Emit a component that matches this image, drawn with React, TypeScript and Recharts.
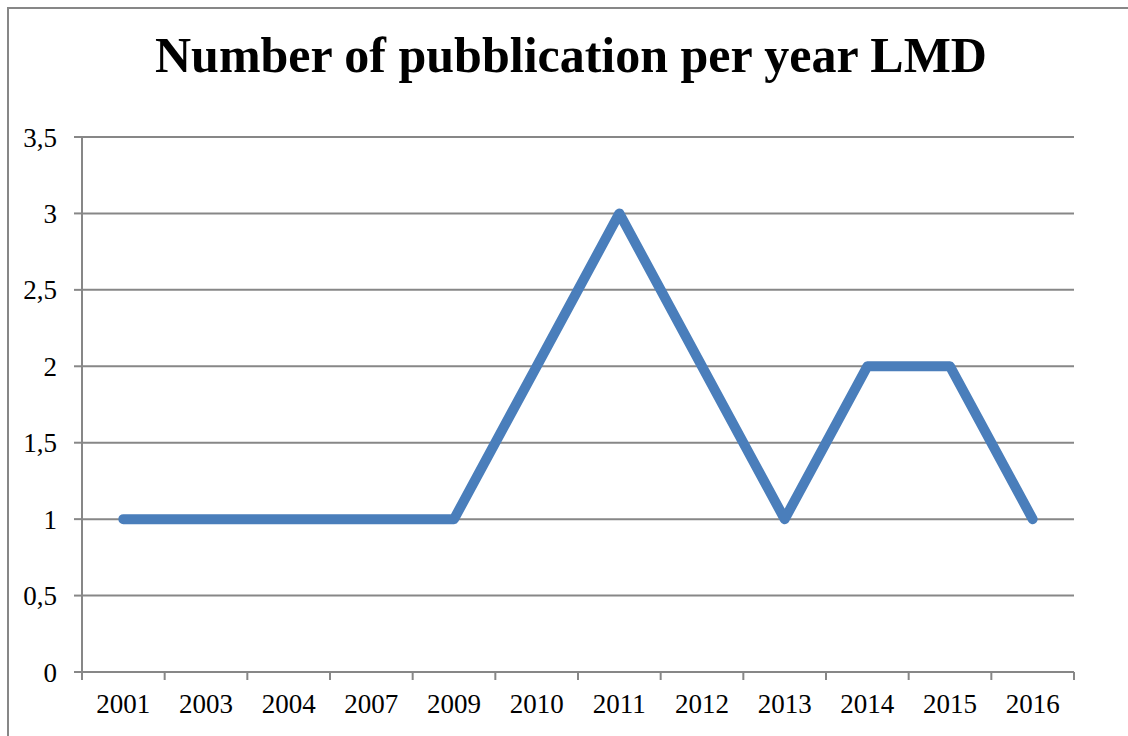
import React from 'react';
import { LineChart, Line, XAxis, YAxis, CartesianGrid } from 'recharts';

const TITLE = 'Number of pubblication per year LMD';
const YEARS = ['2001', '2003', '2004', '2007', '2009', '2010', '2011', '2012', '2013', '2014', '2015', '2016'];
const COUNTS = [1, 1, 1, 1, 1, 2, 3, 2, 1, 2, 2, 1];
const Y_TICKS = [0, 0.5, 1, 1.5, 2, 2.5, 3, 3.5];

const data = YEARS.map((year, i) => ({ year, count: COUNTS[i] }));

const W = 1128;
const H = 736;
const M = { top: 137, right: 54, bottom: 0, left: 0 };
const Y_AXIS_W = 82;
const X_AXIS_H = 64;
const PLOT_W = W - M.left - M.right - Y_AXIS_W;
const BAND = PLOT_W / YEARS.length;
const GRAY = '#878787';
const FONT = '"Liberation Serif", "Times New Roman", serif';

const XTick = (props: any) => {
  const { x, y, payload, index } = props;
  const half = BAND / 2;
  return (
    <g>
      <line x1={x - half} x2={x - half} y1={y} y2={y + 8} stroke={GRAY} strokeWidth={2} />
      {index === YEARS.length - 1 && (
        <line x1={x + half} x2={x + half} y1={y} y2={y + 8} stroke={GRAY} strokeWidth={2} />
      )}
      <text x={x} y={y + 41} textAnchor="middle" fontFamily={FONT} fontSize={27} fill="#000">
        {payload.value}
      </text>
    </g>
  );
};

export default function App() {
  return (
    <div style={{ position: 'fixed', left: 0, top: 0, width: W, height: H, overflow: 'hidden', background: '#fff' }}>
      <div
        style={{
          position: 'absolute',
          left: 7,
          top: 7,
          width: 1300,
          height: 900,
          borderLeft: `2px solid ${GRAY}`,
          borderTop: `2px solid ${GRAY}`,
          boxSizing: 'border-box',
        }}
      />
      <div
        style={{
          position: 'absolute',
          left: 7,
          top: 25,
          width: 1128,
          textAlign: 'center',
          fontFamily: FONT,
          fontWeight: 'bold',
          fontSize: 50,
          lineHeight: '60px',
          color: '#000',
          whiteSpace: 'nowrap',
        }}
      >
        {TITLE}
      </div>
      <div style={{ position: 'absolute', left: 0, top: 0 }}>
        <LineChart width={W} height={H} data={data} margin={M}>
          <CartesianGrid vertical={false} stroke={GRAY} strokeWidth={2} />
          <XAxis
            dataKey="year"
            height={X_AXIS_H}
            padding={{ left: BAND / 2, right: BAND / 2 }}
            axisLine={{ stroke: GRAY, strokeWidth: 2 }}
            tickLine={false}
            tickSize={0}
            tickMargin={0}
            tick={<XTick />}
            interval={0}
          />
          <YAxis
            width={Y_AXIS_W}
            domain={[0, 3.5]}
            ticks={Y_TICKS}
            interval={0}
            axisLine={{ stroke: GRAY, strokeWidth: 2 }}
            tickLine={{ stroke: GRAY, strokeWidth: 2 }}
            tickSize={8}
            tickMargin={17}
            tick={{ fontFamily: FONT, fontSize: 27, fill: '#000' }}
            tickFormatter={(v: number) => String(v).replace('.', ',')}
          />
          <Line
            dataKey="count"
            type="linear"
            stroke="#4a7ebb"
            strokeWidth={10}
            strokeLinecap="round"
            strokeLinejoin="round"
            dot={false}
            activeDot={false}
            isAnimationActive={false}
          />
        </LineChart>
      </div>
    </div>
  );
}
